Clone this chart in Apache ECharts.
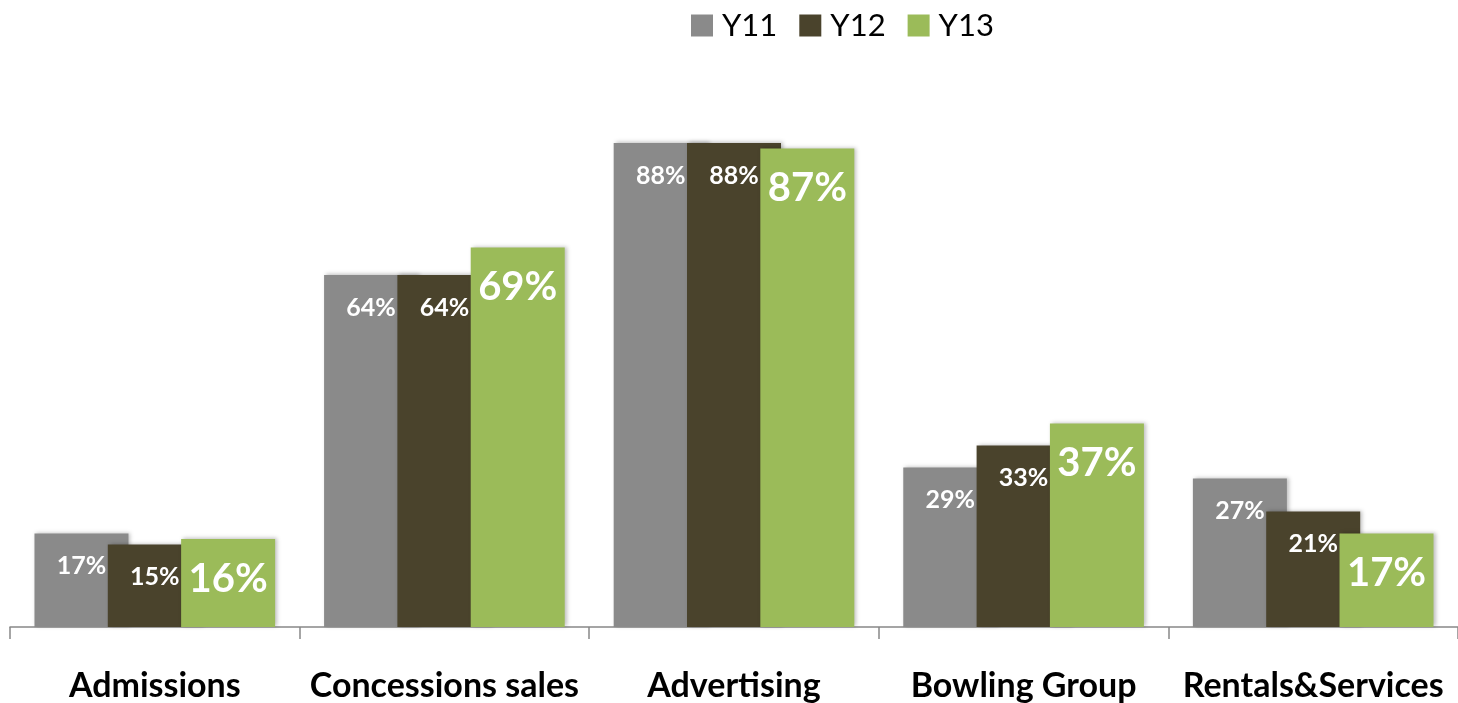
<!DOCTYPE html>
<html>
<head>
<meta charset="utf-8">
<style>
  html, body { margin: 0; padding: 0; background: #fff; }
  #chart { width: 1458px; height: 703px; }
</style>
<script src="https://cdn.jsdelivr.net/npm/echarts@6/dist/echarts.min.js"></script>
</head>
<body>
<div id="chart"></div>
<script>
const categories = ['Admissions', 'Concessions sales', 'Advertising', 'Bowling Group', 'Rentals&Services']
const seriesNames = ['Y11', 'Y12', 'Y13']
const y11 = [17, 64, 88, 29, 27]
const y12 = [15, 64, 88, 33, 21]
const y13 = [16, 69, 87, 37, 17]

const font = 'Lato, "Open Sans", sans-serif'
const colors = ['#8a8a8a', '#4a432c', '#9bbb59']

const chart = echarts.init(document.getElementById('chart'))

function barSeries(name, data, color, labelSize, dist) {
  return {
    name: name,
    type: 'bar',
    data: data,
    barWidth: 94,
    barGap: '-22%',
    itemStyle: {
      color: color,
      shadowColor: 'rgba(0, 0, 0, 0.25)',
      shadowBlur: 4,
      shadowOffsetX: 2,
      shadowOffsetY: -1
    },
    label: {
      show: true,
      position: 'insideTop',
      distance: dist,
      formatter: p => p.value + '%',
      color: '#fff',
      fontFamily: font,
      fontWeight: 'bold',
      fontSize: labelSize
    }
  }
}

chart.setOption({
  animation: false,
  color: colors,
  legend: {
    data: seriesNames,
    top: 5,
    left: 686,
    itemWidth: 22,
    itemHeight: 22,
    itemGap: 22,
    icon: 'rect',
    textStyle: {
      fontFamily: font,
      fontSize: 31,
      color: '#000',
      padding: [0, 0, 0, 4]
    }
  },
  grid: {
    left: 10,
    right: -4,
    top: 77,
    bottom: 76
  },
  xAxis: {
    type: 'category',
    data: categories,
    axisLine: { lineStyle: { color: '#888', width: 1.5 } },
    axisTick: { show: true, interval: 0, length: 12, lineStyle: { color: '#888', width: 1.5 } },
    axisLabel: {
      interval: 0,
      margin: 42,
      color: '#000',
      fontFamily: font,
      fontWeight: 'bold',
      fontSize: 34
    }
  },
  yAxis: {
    type: 'value',
    min: 0,
    max: 100,
    show: false,
    splitLine: { show: false }
  },
  series: [
    barSeries(seriesNames[0], y11, colors[0], 25, 20),
    barSeries(seriesNames[1], y12, colors[1], 25, 20),
    barSeries(seriesNames[2], y13, colors[2], 40, 20)
  ]
})
</script>
</body>
</html>
